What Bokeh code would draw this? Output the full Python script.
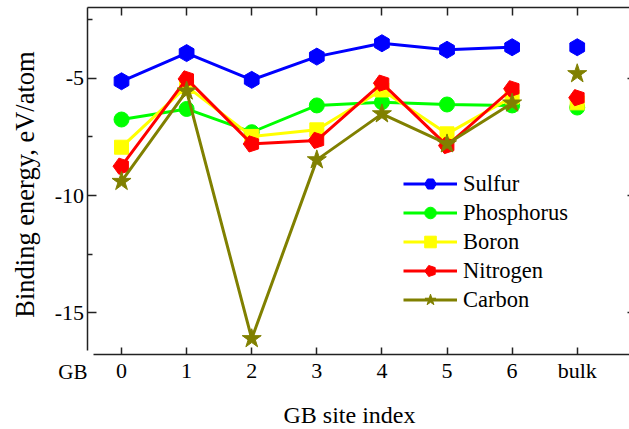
from bokeh.plotting import figure
from bokeh.models import (Range1d, FixedTicker, LinearAxis, Legend, LegendItem, Label,
                          CustomJSTickFormatter)
from bokeh.embed import file_html
from bokeh.resources import INLINE

# ---- data ----
site_index = [0, 1, 2, 3, 4, 5, 6]
bulk_index = [7]
x_ticks = [0, 1, 2, 3, 4, 5, 6, 7]
x_tick_labels = ["0", "1", "2", "3", "4", "5", "6", "bulk"]
y_ticks = [-5, -10, -15]
y_tick_labels = ["-5", "-10", "-15"]
y_minor = [-2.5, -7.5, -12.5]

sulfur = [-5.13, -3.93, -5.07, -4.08, -3.51, -3.79, -3.68]
sulfur_bulk = [-3.68]
phosphorus = [-6.76, -6.31, -7.30, -6.16, -6.02, -6.12, -6.16]
phosphorus_bulk = [-6.25]
boron = [-7.94, -5.35, -7.48, -7.20, -5.50, -7.37, -5.80]
boron_bulk = [-6.05]
nitrogen = [-8.75, -5.03, -7.80, -7.65, -5.21, -7.87, -5.45]
nitrogen_bulk = [-5.83]
carbon = [-9.40, -5.55, -16.10, -8.48, -6.52, -7.80, -6.06]
carbon_bulk = [-4.81]

FONT = "Liberation Serif"
AX = "#222222"

# frame covers the whole figure; axes are drawn at fixed locations inside it
X0, X1 = -1.859, 7.803
Y0, Y1 = -19.968, -1.689
X_AXIS_AT = -16.772     # bottom axis line
Y_AXIS_AT = -0.515      # left axis line
TOP_AT = -1.988
RIGHT_AT = 7.911

p = figure(width=629, height=429, output_backend="svg", toolbar_location=None,
           x_range=Range1d(X0, X1), y_range=Range1d(Y0, Y1),
           min_border=0, min_border_left=0, min_border_right=0,
           min_border_top=0, min_border_bottom=0)
p.outline_line_color = None
p.grid.visible = False
p.background_fill_color = "white"
p.border_fill_color = "white"

empty = CustomJSTickFormatter(code="return ''")

# bottom axis
xa = p.xaxis[0]
xa.fixed_location = X_AXIS_AT
xa.bounds = (-0.43, X1)
xa.ticker = FixedTicker(ticks=x_ticks, minor_ticks=[])
xa.major_label_overrides = {t: l for t, l in zip(x_ticks, x_tick_labels)}
xa.major_tick_in = 7
xa.major_tick_out = 0
xa.minor_tick_in = 0
xa.minor_tick_out = 0
xa.major_label_standoff = 4
xa.major_label_text_font = FONT
xa.major_label_text_font_size = "22px"
xa.major_label_text_color = "black"
xa.axis_line_color = AX
xa.axis_line_width = 1.5
xa.major_tick_line_color = AX
xa.major_tick_line_width = 1.5

# left axis
ya = p.yaxis[0]
ya.fixed_location = Y_AXIS_AT
ya.bounds = (-16.60, TOP_AT)
ya.ticker = FixedTicker(ticks=y_ticks, minor_ticks=y_minor)
ya.major_label_overrides = {t: l for t, l in zip(y_ticks, y_tick_labels)}
ya.major_tick_in = 9
ya.major_tick_out = 0
ya.minor_tick_in = 5
ya.minor_tick_out = 0
ya.major_label_standoff = 4
ya.major_label_text_font = FONT
ya.major_label_text_font_size = "22px"
ya.major_label_text_color = "black"
ya.axis_line_color = AX
ya.axis_line_width = 1.5
ya.major_tick_line_color = AX
ya.major_tick_line_width = 1.5
ya.minor_tick_line_color = AX
ya.minor_tick_line_width = 1.5

# top axis (ticks only)
top = LinearAxis(ticker=FixedTicker(ticks=x_ticks, minor_ticks=[]), formatter=empty,
                 fixed_location=TOP_AT, bounds=(Y_AXIS_AT, X1))
top.major_tick_in = 8
top.major_tick_out = 0
top.minor_tick_in = 0
top.minor_tick_out = 0
top.major_label_standoff = 0
top.axis_line_color = AX
top.axis_line_width = 1.5
top.major_tick_line_color = AX
top.major_tick_line_width = 1.5
p.add_layout(top, "above")

# right axis (just beyond the visible edge; only tick tips show)
right = LinearAxis(ticker=FixedTicker(ticks=y_ticks, minor_ticks=y_minor), formatter=empty,
                   fixed_location=RIGHT_AT)
right.major_tick_in = 9
right.major_tick_out = 0
right.minor_tick_in = 5
right.minor_tick_out = 0
right.major_label_standoff = 0
right.axis_line_color = AX
right.axis_line_width = 1.5
right.major_tick_line_color = AX
right.major_tick_line_width = 1.5
right.minor_tick_line_color = AX
right.minor_tick_line_width = 1.5
p.add_layout(right, "right")

LW = 3
items = []

def series(name, ys, bulk, color, kind):
    ln = p.line(site_index, ys, line_color=color, line_width=LW)
    if kind == "ngon":
        mk = p.ngon(x=site_index, y=ys, radius=8.5, radius_units="screen", n=5,
                    angle=1.5708, fill_color=color, line_color=color)
        p.ngon(x=bulk_index, y=bulk, radius=8.5, radius_units="screen", n=5,
               angle=1.5708, fill_color=color, line_color=color)
    else:
        size = {"hex": 17, "circle": 15, "square": 14, "star": 20}[kind]
        ang = 1.5708 if kind == "hex" else 0
        mk = p.scatter(site_index, ys, marker=kind, size=size, angle=ang,
                       fill_color=color, line_color=color)
        p.scatter(bulk_index, bulk, marker=kind, size=size, angle=ang,
                  fill_color=color, line_color=color)
    items.append(LegendItem(label=name, renderers=[ln, mk]))

series("Sulfur", sulfur, sulfur_bulk, "#0000FF", "hex")
series("Phosphorus", phosphorus, phosphorus_bulk, "#00FF00", "circle")
series("Boron", boron, boron_bulk, "#FFFF00", "square")
series("Nitrogen", nitrogen, nitrogen_bulk, "#FF0000", "ngon")
series("Carbon", carbon, carbon_bulk, "#808000", "star")

legend = Legend(items=items, location=(403, 115), border_line_color=None,
                background_fill_alpha=0, glyph_width=54, glyph_height=29,
                label_height=29, spacing=0, padding=0, margin=0,
                label_standoff=6, label_text_font=FONT, label_text_font_size="22.5px",
                label_text_color="black")
p.add_layout(legend)

# axis titles
p.add_layout(Label(x=-1.490, y=-9.53, text="Binding energy, eV/atom", angle=90, angle_units="deg",
                   text_align="center", text_baseline="middle",
                   text_font=FONT, text_font_size="26.5px", text_color="black"))
p.add_layout(Label(x=3.502, y=-19.37, text="GB site index", text_align="center",
                   text_baseline="middle", text_font=FONT, text_font_size="24px",
                   text_color="black"))
p.add_layout(Label(x=-0.522, y=-17.52, text="GB", text_align="right", text_baseline="middle",
                   text_font=FONT, text_font_size="21px", text_color="black"))

open("out.html", "w").write(file_html(p, INLINE))
